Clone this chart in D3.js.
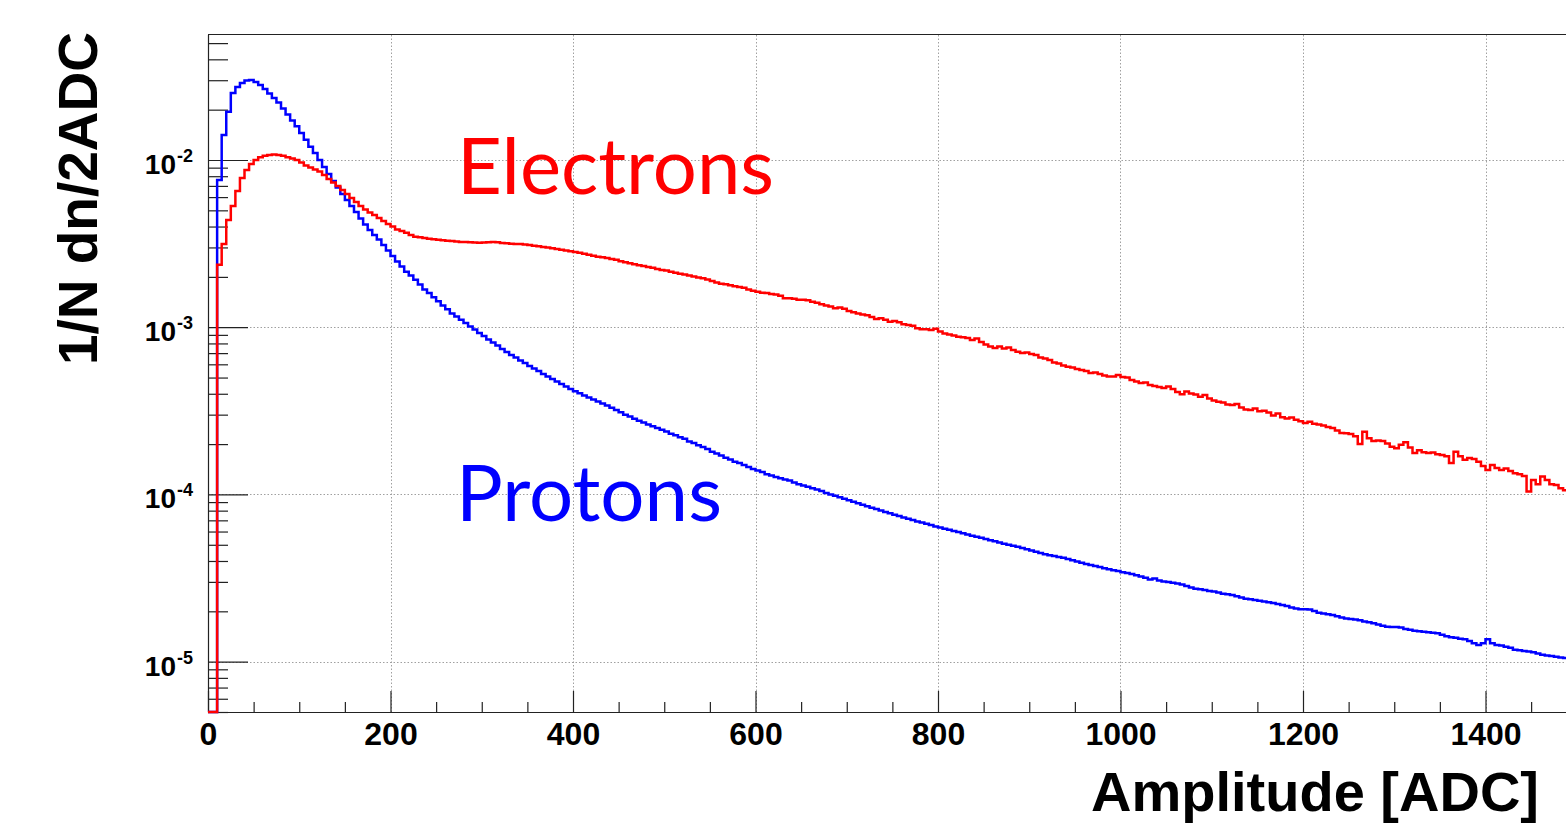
<!DOCTYPE html>
<html><head><meta charset="utf-8">
<script src="https://cdn.jsdelivr.net/npm/d3@7"></script>
<style>body{margin:0;background:#fff;}svg{display:block;}</style>
</head><body><svg id="chart" width="1566" height="825"></svg>
<script>
// ---- data: 5-ADC bins starting at 0 ----
const binStart = 0;
const binWidth = 5;
const protons = [
0,0,7.6e-3,1.41e-2,1.94e-2,2.52e-2,2.73e-2,2.89e-2,2.99e-2,3.01e-2,
2.93e-2,2.81e-2,2.66e-2,2.50e-2,2.35e-2,2.21e-2,2.03e-2,1.87e-2,1.72e-2,1.59e-2,
1.45e-2,1.32e-2,1.20e-2,1.10e-2,1.00e-2,9.08e-3,8.25e-3,7.49e-3,6.85e-3,6.26e-3,
5.77e-3,5.31e-3,4.89e-3,4.47e-3,4.11e-3,3.82e-3,3.56e-3,3.35e-3,3.10e-3,2.88e-3,
2.67e-3,2.47e-3,2.31e-3,2.15e-3,2.04e-3,1.92e-3,1.80e-3,1.68e-3,1.60e-3,1.51e-3,
1.43e-3,1.35e-3,1.28e-3,1.21e-3,1.16e-3,1.11e-3,1.06e-3,1.01e-3,9.69e-4,9.23e-4,
8.86e-4,8.44e-4,8.10e-4,7.77e-4,7.41e-4,7.11e-4,6.82e-4,6.59e-4,6.32e-4,6.11e-4,
5.86e-4,5.66e-4,5.47e-4,5.25e-4,5.07e-4,4.90e-4,4.73e-4,4.57e-4,4.42e-4,4.27e-4,
4.14e-4,4.03e-4,3.90e-4,3.80e-4,3.70e-4,3.60e-4,3.50e-4,3.40e-4,3.30e-4,3.20e-4,
3.10e-4,3.00e-4,2.92e-4,2.84e-4,2.76e-4,2.69e-4,2.62e-4,2.56e-4,2.50e-4,2.44e-4,
2.38e-4,2.31e-4,2.26e-4,2.20e-4,2.15e-4,2.07e-4,2.03e-4,1.97e-4,1.92e-4,1.87e-4,
1.80e-4,1.76e-4,1.71e-4,1.66e-4,1.62e-4,1.57e-4,1.54e-4,1.50e-4,1.46e-4,1.42e-4,
1.39e-4,1.36e-4,1.32e-4,1.30e-4,1.27e-4,1.25e-4,1.23e-4,1.21e-4,1.18e-4,1.15e-4,
1.13e-4,1.11e-4,1.09e-4,1.07e-4,1.05e-4,1.02e-4,1.00e-4,9.81e-5,9.61e-5,9.41e-5,
9.22e-5,9.03e-5,8.85e-5,8.67e-5,8.49e-5,8.32e-5,8.18e-5,8.01e-5,7.85e-5,7.71e-5,
7.56e-5,7.43e-5,7.29e-5,7.16e-5,7.03e-5,6.90e-5,6.79e-5,6.68e-5,6.56e-5,6.44e-5,
6.34e-5,6.24e-5,6.14e-5,6.04e-5,5.96e-5,5.86e-5,5.77e-5,5.67e-5,5.58e-5,5.50e-5,
5.41e-5,5.33e-5,5.25e-5,5.16e-5,5.08e-5,5.01e-5,4.94e-5,4.86e-5,4.78e-5,4.70e-5,
4.62e-5,4.54e-5,4.46e-5,4.39e-5,4.33e-5,4.28e-5,4.22e-5,4.18e-5,4.11e-5,4.04e-5,
3.97e-5,3.91e-5,3.84e-5,3.78e-5,3.73e-5,3.68e-5,3.62e-5,3.57e-5,3.52e-5,3.48e-5,
3.43e-5,3.39e-5,3.34e-5,3.29e-5,3.23e-5,3.18e-5,3.10e-5,3.14e-5,3.06e-5,3.02e-5,
2.99e-5,2.96e-5,2.93e-5,2.89e-5,2.83e-5,2.78e-5,2.73e-5,2.71e-5,2.68e-5,2.65e-5,
2.63e-5,2.59e-5,2.55e-5,2.53e-5,2.50e-5,2.46e-5,2.42e-5,2.38e-5,2.36e-5,2.34e-5,
2.31e-5,2.29e-5,2.27e-5,2.24e-5,2.21e-5,2.18e-5,2.15e-5,2.11e-5,2.08e-5,2.06e-5,
2.06e-5,2.05e-5,2.01e-5,1.96e-5,1.94e-5,1.92e-5,1.90e-5,1.87e-5,1.84e-5,1.81e-5,
1.80e-5,1.79e-5,1.77e-5,1.74e-5,1.72e-5,1.70e-5,1.67e-5,1.64e-5,1.62e-5,1.61e-5,
1.61e-5,1.60e-5,1.57e-5,1.55e-5,1.53e-5,1.52e-5,1.51e-5,1.50e-5,1.49e-5,1.48e-5,
1.45e-5,1.42e-5,1.40e-5,1.39e-5,1.37e-5,1.36e-5,1.33e-5,1.29e-5,1.26e-5,1.29e-5,
1.36e-5,1.29e-5,1.26e-5,1.25e-5,1.23e-5,1.21e-5,1.18e-5,1.17e-5,1.16e-5,1.15e-5,
1.14e-5,1.12e-5,1.10e-5,1.09e-5,1.08e-5,1.07e-5,1.06e-5,1.05e-5,1.04e-5,1.03e-5
];
const electrons = [
0,0,2.36e-3,3.15e-3,4.38e-3,5.31e-3,6.53e-3,7.80e-3,8.71e-3,9.46e-3,
1.00e-2,1.04e-2,1.06e-2,1.07e-2,1.08e-2,1.07e-2,1.06e-2,1.04e-2,1.02e-2,1.00e-2,
9.66e-3,9.27e-3,9.02e-3,8.77e-3,8.53e-3,8.13e-3,7.70e-3,7.34e-3,6.99e-3,6.62e-3,
6.26e-3,5.93e-3,5.61e-3,5.31e-3,5.06e-3,4.85e-3,4.69e-3,4.50e-3,4.32e-3,4.14e-3,
4.00e-3,3.84e-3,3.76e-3,3.67e-3,3.56e-3,3.48e-3,3.45e-3,3.42e-3,3.38e-3,3.36e-3,
3.34e-3,3.31e-3,3.29e-3,3.28e-3,3.25e-3,3.23e-3,3.23e-3,3.22e-3,3.21e-3,3.20e-3,
3.21e-3,3.22e-3,3.23e-3,3.22e-3,3.19e-3,3.18e-3,3.16e-3,3.15e-3,3.14e-3,3.12e-3,
3.10e-3,3.07e-3,3.05e-3,3.02e-3,3.00e-3,2.97e-3,2.94e-3,2.91e-3,2.88e-3,2.85e-3,
2.82e-3,2.79e-3,2.75e-3,2.71e-3,2.68e-3,2.64e-3,2.62e-3,2.59e-3,2.56e-3,2.53e-3,
2.48e-3,2.45e-3,2.41e-3,2.38e-3,2.35e-3,2.32e-3,2.29e-3,2.27e-3,2.23e-3,2.20e-3,
2.18e-3,2.15e-3,2.12e-3,2.09e-3,2.07e-3,2.04e-3,2.01e-3,1.98e-3,1.96e-3,1.93e-3,
1.89e-3,1.85e-3,1.82e-3,1.81e-3,1.78e-3,1.76e-3,1.74e-3,1.72e-3,1.68e-3,1.65e-3,
1.63e-3,1.61e-3,1.60e-3,1.58e-3,1.57e-3,1.54e-3,1.49e-3,1.49e-3,1.48e-3,1.46e-3,
1.46e-3,1.45e-3,1.42e-3,1.40e-3,1.37e-3,1.35e-3,1.33e-3,1.30e-3,1.31e-3,1.29e-3,
1.25e-3,1.23e-3,1.21e-3,1.19e-3,1.18e-3,1.15e-3,1.12e-3,1.13e-3,1.11e-3,1.08e-3,
1.09e-3,1.07e-3,1.04e-3,1.03e-3,1.02e-3,9.85e-4,9.71e-4,9.71e-4,9.62e-4,9.80e-4,
9.42e-4,9.17e-4,9.04e-4,8.92e-4,8.77e-4,8.70e-4,8.62e-4,8.39e-4,8.56e-4,8.16e-4,
7.88e-4,7.67e-4,7.51e-4,7.67e-4,7.46e-4,7.56e-4,7.30e-4,7.14e-4,7.01e-4,7.06e-4,
6.91e-4,6.82e-4,6.59e-4,6.50e-4,6.36e-4,6.15e-4,6.07e-4,5.90e-4,5.80e-4,5.74e-4,
5.62e-4,5.55e-4,5.48e-4,5.32e-4,5.36e-4,5.25e-4,5.14e-4,5.07e-4,5.07e-4,5.18e-4,
5.04e-4,5.00e-4,4.83e-4,4.73e-4,4.64e-4,4.67e-4,4.51e-4,4.45e-4,4.39e-4,4.33e-4,
4.42e-4,4.27e-4,4.10e-4,3.98e-4,4.13e-4,4.01e-4,3.96e-4,3.84e-4,3.93e-4,3.75e-4,
3.64e-4,3.58e-4,3.55e-4,3.45e-4,3.43e-4,3.47e-4,3.31e-4,3.22e-4,3.20e-4,3.27e-4,
3.14e-4,3.17e-4,3.09e-4,2.97e-4,3.05e-4,2.89e-4,2.85e-4,2.88e-4,2.80e-4,2.74e-4,
2.67e-4,2.72e-4,2.65e-4,2.62e-4,2.58e-4,2.53e-4,2.50e-4,2.41e-4,2.33e-4,2.32e-4,
2.30e-4,2.23e-4,2.00e-4,2.37e-4,2.17e-4,2.09e-4,2.10e-4,2.09e-4,2.02e-4,1.93e-4,
1.89e-4,1.98e-4,2.05e-4,1.91e-4,1.77e-4,1.84e-4,1.79e-4,1.77e-4,1.78e-4,1.74e-4,
1.72e-4,1.69e-4,1.54e-4,1.80e-4,1.69e-4,1.61e-4,1.65e-4,1.63e-4,1.57e-4,1.48e-4,
1.40e-4,1.50e-4,1.44e-4,1.40e-4,1.43e-4,1.38e-4,1.34e-4,1.32e-4,1.29e-4,1.04e-4,
1.22e-4,1.15e-4,1.28e-4,1.22e-4,1.15e-4,1.14e-4,1.09e-4,1.06e-4,1.05e-4,1.03e-4
];
const xTickValues = [0, 200, 400, 600, 800, 1000, 1200, 1400];
const yDecades = [1e-2, 1e-3, 1e-4, 1e-5];
const yExponents = ["-2", "-3", "-4", "-5"];
const seriesNames = ["Electrons", "Protons"];
const seriesColors = ["#ff0000", "#0000ff"];
const xTitle = "Amplitude [ADC]";
const yTitle = "1/N dn/2ADC";

// ---- layout ----
const W = 1566, H = 825;
const L = 208, R = 1576.75, T = 34.5, B = 712;
const xMin = 0, xMax = 1500, yMin = 5e-6, yMax = 0.0563;
const x = d3.scaleLinear().domain([xMin, xMax]).range([L, R]);
const y = d3.scaleLog().domain([yMin, yMax]).range([B, T]);
const svg = d3.select("#chart");
const FONT = "'Liberation Sans', Arial, Helvetica, sans-serif";

// grid
const grid = svg.append("g").attr("stroke", "#a0a0a0").attr("stroke-width", 1).attr("stroke-dasharray", "1.5,2");
grid.selectAll("line.gx").data(xTickValues.filter(v => v > xMin)).join("line")
  .attr("x1", d => Math.round(x(d)) + 0.5).attr("x2", d => Math.round(x(d)) + 0.5)
  .attr("y1", B).attr("y2", T);
grid.selectAll("line.gy").data(yDecades).join("line")
  .attr("x1", L).attr("x2", W)
  .attr("y1", d => Math.round(y(d)) + 0.5).attr("y2", d => Math.round(y(d)) + 0.5);

// minor tick values
const xMinor = d3.range(xMin, xMax + 1, 50).filter(v => v % 200 !== 0);
const yMinor = [];
for (let e = -6; e <= -2; e++) for (let m = 2; m <= 9; m++) {
  const v = m * Math.pow(10, e);
  if (v >= yMin && v <= yMax) yMinor.push(v);
}
yMinor.push(yMin);

function styleAxis(g) {
  g.selectAll("path, line").attr("stroke", "#222").attr("stroke-width", 1.2);
  g.attr("font-family", FONT);
}

// x axis
const gx = svg.append("g").attr("transform", `translate(0,${B})`)
  .call(d3.axisBottom(x).tickValues(xTickValues).tickSizeInner(-21).tickSizeOuter(0).tickPadding(10).tickFormat(d3.format("d")));
styleAxis(gx);
gx.selectAll("text").attr("font-size", 32).attr("font-weight", "bold").attr("fill", "#000");
const gxm = svg.append("g").attr("transform", `translate(0,${B})`)
  .call(d3.axisBottom(x).tickValues(xMinor).tickSizeInner(-10).tickSizeOuter(0).tickFormat(""));
styleAxis(gxm);
gxm.select(".domain").remove();

// y axis
const gy = svg.append("g").attr("transform", `translate(${L},0)`)
  .call(d3.axisLeft(y).tickValues(yDecades).tickSizeInner(-40).tickSizeOuter(0).tickPadding(15).tickFormat(() => "10"));
styleAxis(gy);
gy.selectAll("text").attr("font-size", 28).attr("font-weight", "bold").attr("fill", "#000").attr("dy", "13.5")
  .each(function(d) {
    d3.select(this).append("tspan").attr("font-size", 18).attr("dy", -12).attr("dx", 1).text(yExponents[yDecades.indexOf(d)]);
  });
const gym = svg.append("g").attr("transform", `translate(${L},0)`)
  .call(d3.axisLeft(y).tickValues(yMinor).tickSizeInner(-20).tickSizeOuter(0).tickFormat(""));
styleAxis(gym);
gym.select(".domain").remove();

// top frame
svg.append("line").attr("x1", L).attr("x2", W).attr("y1", T).attr("y2", T)
  .attr("stroke", "#222").attr("stroke-width", 1.2);

// histograms
svg.append("clipPath").attr("id", "plotclip").append("rect")
  .attr("x", L - 2).attr("y", T).attr("width", R - L + 4).attr("height", B - T + 2);
function histPoints(vals) {
  const pts = vals.map((v, i) => ({ x: binStart + i * binWidth, v }));
  pts.push({ x: binStart + vals.length * binWidth, v: vals[vals.length - 1] });
  return pts;
}
const line = d3.line().x(d => x(d.x)).y(d => y(Math.max(d.v, yMin))).curve(d3.curveStepAfter);
const hg = svg.append("g").attr("clip-path", "url(#plotclip)");
[[protons, seriesColors[1]], [electrons, seriesColors[0]]].forEach(([vals, col]) => {
  hg.append("path").datum(histPoints(vals)).attr("d", line)
    .attr("fill", "none").attr("stroke", col)
    .attr("stroke-width", 2.5).attr("stroke-linejoin", "miter");
});

// series labels
svg.append("text").attr("x", 457).attr("y", 194).text(seriesNames[0])
  .attr("font-family", "Lato, 'Open Sans', sans-serif").attr("font-size", 77).attr("fill", seriesColors[0])
  .attr("textLength", 317).attr("lengthAdjust", "spacingAndGlyphs");
svg.append("text").attr("x", 456).attr("y", 521).text(seriesNames[1])
  .attr("font-family", "Lato, 'Open Sans', sans-serif").attr("font-size", 77).attr("fill", seriesColors[1])
  .attr("textLength", 266).attr("lengthAdjust", "spacingAndGlyphs");

// axis titles
svg.append("text").attr("x", 1539).attr("y", 811).attr("text-anchor", "end")
  .attr("font-family", FONT).attr("font-weight", "bold").attr("font-size", 56).text(xTitle);
svg.append("text").attr("transform", "translate(97,32) rotate(-90)").attr("text-anchor", "end")
  .attr("font-family", FONT).attr("font-weight", "bold").attr("font-size", 55).text(yTitle);
</script>
</body></html>
